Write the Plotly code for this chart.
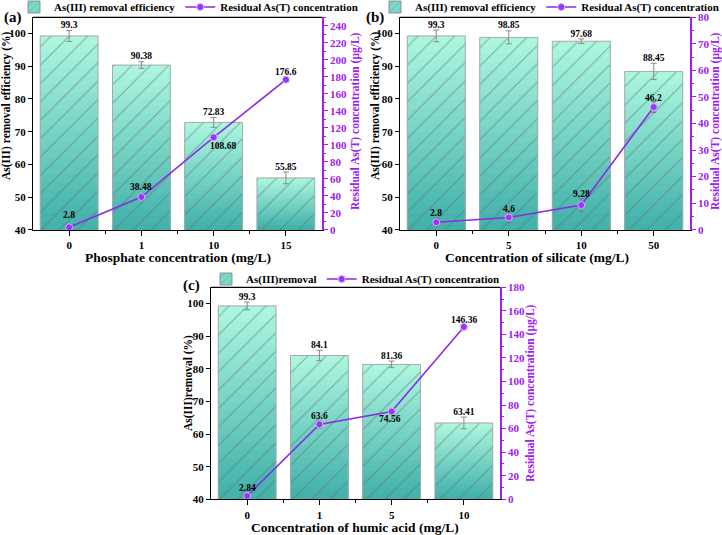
import plotly.graph_objects as go

# ---------------- data ----------------
cats_a = ["0", "1", "10", "15"]
eff_a = [99.3, 90.38, 72.83, 55.85]
eff_err_a = [1.7, 1.0, 1.5, 1.8]
res_a = [2.8, 38.48, 108.68, 176.6]
res_err_a = [2.0, 4.0, 3.0, 3.0]

cats_b = ["0", "5", "10", "50"]
eff_b = [99.3, 98.85, 97.68, 88.45]
eff_err_b = [1.8, 2.0, 0.7, 2.5]
res_b = [2.8, 4.6, 9.28, 46.2]
res_err_b = [1.5, 2.0, 2.5, 2.0]

cats_c = ["0", "1", "5", "10"]
eff_c = [99.3, 84.1, 81.36, 63.41]
eff_err_c = [1.2, 1.6, 1.0, 1.8]
res_c = [2.84, 63.6, 74.56, 146.36]
res_err_c = [2.0, 3.0, 2.0, 2.0]

# label offsets (px) for the residual-concentration labels
lab_dx_a = [0, 0, 9, 0]
lab_dy_a = [12, 10, -9, 8]
lab_dx_b = [0, 0, 0, 0]
lab_dy_b = [9, 8, 11, 9]
lab_dx_c = [0, 0, -2, 0]
lab_dy_c = [8, 8, -8, 7]

W, H = 722, 535
FONT = "'Liberation Serif', 'Times New Roman', Tinos, 'DejaVu Serif', serif"
PURPLE = "#8B2BE2"
AXPURPLE = "#A020F0"
GRAY = "#8a8a8a"
N_GRAD = 24
TOP_RGB = (172, 246, 224)
BOT_RGB = (66, 178, 170)


def px(x):
    return x / W


def py(y):
    return 1 - y / H


fig = go.Figure()

panels = [
    dict(cats=cats_a, eff=eff_a, eerr=eff_err_a, res=res_a, rerr=res_err_a,
         xa="x", ya="y", ya2="y2", legend="legend", barname="As(III) removal efficiency",
         dx=lab_dx_a, dy=lab_dy_a),
    dict(cats=cats_b, eff=eff_b, eerr=eff_err_b, res=res_b, rerr=res_err_b,
         xa="x2", ya="y3", ya2="y4", legend="legend2", barname="As(III) removal efficiency",
         dx=lab_dx_b, dy=lab_dy_b),
    dict(cats=cats_c, eff=eff_c, eerr=eff_err_c, res=res_c, rerr=res_err_c,
         xa="x3", ya="y5", ya2="y6", legend="legend3", barname="As(III)removal",
         dx=lab_dx_c, dy=lab_dy_c),
]

labfont_small = dict(family=FONT, size=9.5, color="black", weight="bold")

BASE = 40
for p in panels:
    xs = list(range(len(p["cats"])))
    # gradient bars (light top -> dark bottom)
    for k in range(N_GRAD):
        frac = 1 - k / N_GRAD
        t = k / (N_GRAD - 1)
        col = "rgb(%d,%d,%d)" % tuple(int(TOP_RGB[i] + (BOT_RGB[i] - TOP_RGB[i]) * t) for i in range(3))
        fig.add_trace(go.Bar(
            x=xs, y=[BASE + (v - BASE) * frac for v in p["eff"]],
            width=0.8, marker=dict(color=col, line=dict(width=0)),
            xaxis=p["xa"], yaxis=p["ya"], showlegend=False, hoverinfo="skip"))
    # hatch + border + error bars
    fig.add_trace(go.Bar(
        x=xs, y=p["eff"], width=0.8,
        marker=dict(color="rgba(0,0,0,0)", line=dict(color="#a8a8a8", width=1),
                    pattern=dict(shape="/", fgcolor="rgba(90,110,110,0.55)",
                                 bgcolor="rgba(0,0,0,0)", fillmode="replace",
                                 size=13, solidity=0.08)),
        error_y=dict(type="data", array=p["eerr"], color=GRAY, thickness=1, width=3),
        xaxis=p["xa"], yaxis=p["ya"], showlegend=False, hoverinfo="skip"))
    # legend-only bar entry
    fig.add_trace(go.Bar(
        x=[None], y=[None], name=p["barname"],
        marker=dict(color="rgb(120,218,200)", line=dict(color="#909090", width=1),
                    pattern=dict(shape="/", fgcolor="rgba(60,90,90,0.6)", size=6, solidity=0.15)),
        xaxis=p["xa"], yaxis=p["ya"], legend=p["legend"]))
    # bar value labels
    fig.add_trace(go.Scatter(
        x=xs, y=[v + e for v, e in zip(p["eff"], p["eerr"])], mode="text",
        text=[("%g" % v) for v in p["eff"]], textposition="top center",
        textfont=labfont_small,
        xaxis=p["xa"], yaxis=p["ya"], showlegend=False, hoverinfo="skip", cliponaxis=False))
    # residual line
    fig.add_trace(go.Scatter(
        x=xs, y=p["res"], mode="lines+markers", name="Residual As(T) concentration",
        line=dict(color=PURPLE, width=1.6),
        marker=dict(symbol="circle", size=7, color="#9933ff", line=dict(color="#d9b3ff", width=1)),
        error_y=dict(type="data", array=p["rerr"], color="#777777", thickness=1, width=2.5),
        xaxis=p["xa"], yaxis=p["ya2"], legend=p["legend"], cliponaxis=False))
    # residual value labels
    for xi, v, dx, dy in zip(xs, p["res"], p["dx"], p["dy"]):
        fig.add_annotation(x=xi, y=v, xref=p["xa"], yref=p["ya2"], text="%g" % v,
                           showarrow=False, xshift=dx, yshift=dy, font=labfont_small,
                           xanchor="center", yanchor="middle")

tickfont = dict(family=FONT, size=11, color="black", weight="bold")
ptickfont = dict(family=FONT, size=11, color=AXPURPLE, weight="bold")


def xaxis_cfg(dom, anchor, cats):
    return dict(domain=dom, anchor=anchor, range=[-0.5, len(cats) - 0.5],
                tickvals=list(range(len(cats))), ticktext=cats, tickfont=tickfont,
                showline=True, linecolor="black", linewidth=1.2, mirror=False,
                ticks="outside", ticklen=5, tickcolor="black", showgrid=False, zeroline=False,
                minor=dict(tickvals=[i + 0.5 for i in range(len(cats) - 1)], ticks="outside",
                           ticklen=3, tickcolor="black"))


def yleft_cfg(dom, anchor):
    return dict(domain=dom, anchor=anchor, range=[40, 105], tickvals=[40, 50, 60, 70, 80, 90, 100],
                tickfont=tickfont, showline=True, linecolor="black", linewidth=1.2,
                ticks="outside", ticklen=4, tickcolor="black", showgrid=False, zeroline=False)


def yright_cfg(over, anchor, rng, dtick, top):
    return dict(overlaying=over, anchor=anchor, side="right", range=rng,
                tickvals=list(range(0, top + 1, dtick)),
                tickfont=ptickfont, showline=True, linecolor=AXPURPLE, linewidth=1.5,
                ticks="outside", ticklen=4, tickcolor=AXPURPLE, showgrid=False, zeroline=False,
                minor=dict(dtick=dtick / 2, ticks="outside", ticklen=2, tickcolor=AXPURPLE))


dom_top = [py(229.7), py(17.3)]
dom_bot = [py(499.3), py(287.3)]

fig.update_layout(
    width=W, height=H, margin=dict(l=0, r=0, t=0, b=0, autoexpand=False),
    paper_bgcolor="white", plot_bgcolor="white", barmode="overlay",
    xaxis=xaxis_cfg([px(33), px(322)], "y", cats_a),
    yaxis=yleft_cfg(dom_top, "x"),
    yaxis2=yright_cfg("y", "x", [0, 250], 20, 240),
    xaxis2=xaxis_cfg([px(400), px(690)], "y3", cats_b),
    yaxis3=yleft_cfg(dom_top, "x2"),
    yaxis4=yright_cfg("y3", "x2", [0, 80], 10, 80),
    xaxis3=xaxis_cfg([px(211), px(500)], "y5", cats_c),
    yaxis5=yleft_cfg(dom_bot, "x3"),
    yaxis6=yright_cfg("y5", "x3", [0, 180], 20, 180),
    font=dict(family=FONT, color="black"),
)

legfont = dict(family=FONT, size=11, color="black", weight="bold")
for name, lx, ly in [("legend", 14, 7), ("legend2", 375, 7), ("legend3", 206, 279)]:
    fig.layout[name] = dict(orientation="h", x=px(lx), y=py(ly), xanchor="left", yanchor="middle",
                            xref="container", yref="container",
                            font=legfont, bgcolor="rgba(0,0,0,0)", borderwidth=0,
                            itemwidth=30, tracegroupgap=0, traceorder="normal")

# top frame lines
for xa, ya in [("x", "y"), ("x2", "y3"), ("x3", "y5")]:
    fig.add_shape(type="line", xref=xa + " domain", yref=ya + " domain", x0=0, x1=1, y0=1, y1=1,
                  line=dict(color="black", width=1.2))

ann = []
tfont = dict(family=FONT, size=11.5, color="black", weight="bold")
pfont = dict(family=FONT, size=11.5, color=AXPURPLE, weight="bold")
xfont = dict(family=FONT, size=13.5, color="black", weight="bold")
labfont = dict(family=FONT, size=15, color="black", weight="bold")
ann += [
    dict(text="As(III) removal efficiency (%)", x=px(7), y=py(106), textangle=-90, font=tfont),
    dict(text="Residual As(T) concentration (μg/L)", x=px(355), y=py(121), textangle=-90, font=pfont),
    dict(text="As(III) removal efficiency (%)", x=px(376), y=py(106), textangle=-90, font=tfont),
    dict(text="Residual As(T) concentration (μg/L)", x=px(715), y=py(121), textangle=-90, font=pfont),
    dict(text="As(III)removal (%)", x=px(188), y=py(383), textangle=-90, font=tfont),
    dict(text="Residual As(T) concentration (μg/L)", x=px(530), y=py(393), textangle=-90, font=pfont),
    dict(text="Phosphate concentration (mg/L)", x=px(178), y=py(257), font=xfont),
    dict(text="Concentration of silicate (mg/L)", x=px(537), y=py(257), font=xfont),
    dict(text="Concentration of humic acid (mg/L)", x=px(355), y=py(527), font=xfont),
    dict(text="(a)", x=px(13), y=py(18), font=labfont),
    dict(text="(b)", x=px(375), y=py(18), font=labfont),
    dict(text="(c)", x=px(191), y=py(285), font=labfont),
]
for a in ann:
    a.update(xref="paper", yref="paper", showarrow=False, xanchor="center", yanchor="middle")
    fig.add_annotation(**a)

fig.write_html("out.html", post_script="document.body.style.margin='0px';",
               config={"displayModeBar": False})
